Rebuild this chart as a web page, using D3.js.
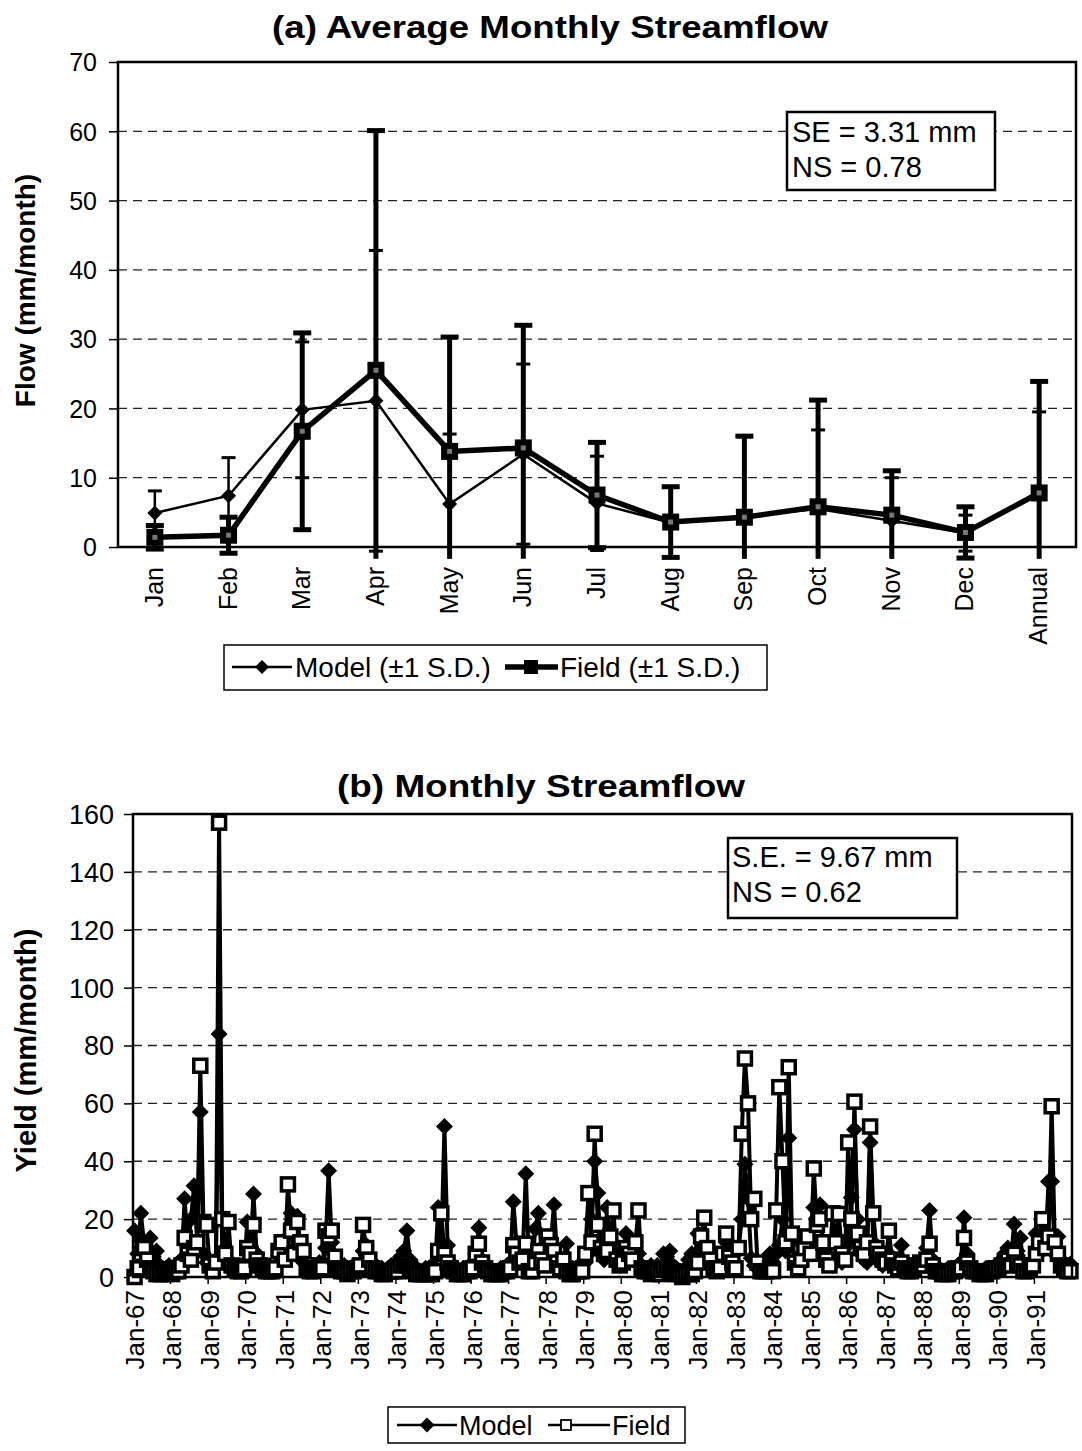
<!DOCTYPE html>
<html>
<head>
<meta charset="utf-8">
<script src="https://cdn.jsdelivr.net/npm/d3@7"></script>
<style>
  body { margin: 0; background: #fff; }
  svg { display: block; }
  text { font-family: "Liberation Sans", Arial, Helvetica, sans-serif; fill: #000; }
</style>
</head>
<body>
<svg id="chart" width="1082" height="1451"></svg>
<script>
// ---- (a) Average monthly streamflow, mm/month ----
const monthNames = ["Jan", "Feb", "Mar", "Apr", "May", "Jun", "Jul", "Aug", "Sep", "Oct", "Nov", "Dec", "Annual"];
const modelMean = [4.9, 7.4, 19.8, 21.1, 6.2, 13.4, 6.3, 3.5, 4.5, 5.5, 3.8, 2.0, 7.8];
const modelSD   = [3.2, 5.5, 9.8, 21.7, 10.1, 13.0, 6.8, 5.2, 11.4, 11.4, 6.2, 2.6, 11.7];
const fieldMean = [1.4, 1.7, 16.7, 25.5, 13.8, 14.3, 7.5, 3.6, 4.3, 5.8, 4.6, 2.1, 7.8];
const fieldSD   = [1.7, 2.6, 14.2, 34.6, 16.5, 17.7, 7.6, 5.1, 11.7, 15.4, 6.4, 3.7, 16.1];
const flowTicks = [0, 10, 20, 30, 40, 50, 60, 70];

// ---- (b) Monthly streamflow Jan-1967 .. Dec-1991, mm/month ----
const yearLabels = ["Jan-67", "Jan-68", "Jan-69", "Jan-70", "Jan-71", "Jan-72", "Jan-73", "Jan-74", "Jan-75",
  "Jan-76", "Jan-77", "Jan-78", "Jan-79", "Jan-80", "Jan-81", "Jan-82", "Jan-83", "Jan-84", "Jan-85",
  "Jan-86", "Jan-87", "Jan-88", "Jan-89", "Jan-90", "Jan-91"];
const modelYield = [
  16, 8, 22, 12, 6, 13.5, 7, 9, 4, 3, 3, 4,           // 1967
  3, 4, 5, 6, 27, 10, 20, 31.5, 12, 57, 8, 5,         // 1968
  4, 5, 6, 84, 9, 7, 5, 4, 3, 3, 4, 3,                // 1969
  19, 9, 28.7, 8, 5, 4, 3, 4, 3, 4, 5, 6,             // 1970
  8, 14, 22, 10, 21, 7, 5, 4, 3, 4, 4, 5,             // 1971
  4, 10, 36.7, 12, 6, 4, 3, 4, 3, 3, 4, 4,            // 1972
  3, 9, 11, 6, 5, 4, 3, 3, 2, 3, 4, 3,                // 1973
  4, 7, 9, 16, 6, 4, 3, 2, 2, 3, 3, 4,                // 1974
  3, 24, 10, 52, 11, 5, 3, 3, 2, 3, 3, 4,             // 1975
  4, 8, 17, 6, 4, 3, 2, 2, 2, 3, 3, 4,                // 1976
  5, 26, 12, 10, 8, 35.7, 4, 3, 16.6, 22, 10, 8,      // 1977
  10, 12, 25, 7, 5, 6, 11.5, 3, 3, 3, 4, 3,           // 1978
  5, 8, 20, 40, 29, 8, 6, 24, 12, 8, 5, 4,            // 1979
  8, 15, 10, 6, 12, 8, 4, 3, 3, 4, 3, 4,              // 1980
  3, 8, 7, 9, 4, 3, 2, 2, 3, 6, 8, 7,                 // 1981
  15, 12, 10, 8, 5, 4, 3, 3, 6, 12, 10, 8,            // 1982
  4, 10, 20, 39, 27, 6.5, 4, 3, 3, 3, 4, 8,           // 1983
  5, 8, 11, 20, 9, 48, 12, 5, 4, 4, 8, 12,            // 1984
  10, 24, 20, 25, 8, 6, 5, 4, 6, 8, 5, 10,            // 1985
  12, 27.5, 51, 20, 8, 6, 5, 46.5, 12, 8, 5, 4,       // 1986
  6, 8, 5, 4, 4, 11, 3, 3, 2, 3, 4, 5,                // 1987
  6, 10, 23, 6, 4, 3, 2, 2, 3, 3, 3, 4,               // 1988
  5, 20.5, 8, 4, 3, 2, 2, 2, 3, 3, 3, 4,              // 1989
  4, 6, 8, 10, 6, 18.3, 9, 13.5, 4, 3, 3, 4,          // 1990
  15, 8, 12, 10, 33, 33, 8, 14, 6, 4, 3, 4.5          // 1991
];
const fieldYield = [
  0, 3, 8, 10, 6, 3, 2, 1, 1, 1, 2, 2,                // 1967
  1, 2, 2, 4, 13.5, 8, 6, 10, 12, 73, 19, 18,         // 1968
  4, 2, 5, 157, 20, 8, 19, 4, 3, 2, 2, 3,             // 1969
  10, 8, 18, 6, 4, 3, 2, 2, 2, 3, 9, 12,              // 1970
  6, 32, 16, 8, 19, 12, 9, 3, 2, 2, 3, 4,             // 1971
  3, 16, 14, 16, 7, 3, 2, 2, 1, 2, 2, 3,              // 1972
  4, 18, 10, 6, 3, 2, 2, 1, 1, 2, 2, 2,               // 1973
  2, 4, 5, 4, 3, 2, 1, 1, 1, 1, 1, 1,                 // 1974
  2, 9, 22, 8, 5, 3, 2, 1, 1, 1, 2, 2,                // 1975
  3, 8, 11.5, 5, 3, 2, 1, 1, 1, 1, 2, 2,              // 1976
  3, 11, 8, 5, 6, 11.5, 2, 2, 5, 9, 6, 4,             // 1977
  14, 11, 9, 5, 3, 6, 2, 1, 1, 2, 2, 2,               // 1978
  8, 29, 12, 49.5, 18, 10, 8, 9, 14, 23, 6, 4,        // 1979
  5, 10, 8, 6, 12, 23, 3, 2, 2, 1, 2, 2,              // 1980
  1, 3, 3, 2, 2, 1, 1, 0, 1, 1, 1, 2,                 // 1981
  5, 14, 20.5, 10, 6, 3, 2, 3, 8, 15, 7, 5,           // 1982
  3, 10, 49.5, 75.5, 60, 20, 27, 5, 2, 2, 2, 3,       // 1983
  2, 23, 65.6, 40, 12, 72.5, 15, 5, 3, 6, 10, 14,     // 1984
  8, 37.5, 18, 20, 12, 6, 4, 22, 12, 21.8, 8, 6,      // 1985
  46.5, 20, 60.6, 15, 10, 8, 12, 52, 22, 10, 8, 6,    // 1986
  5, 16, 6, 4, 3, 5, 3, 2, 2, 3, 4, 5,                // 1987
  4, 6, 11.5, 4, 2, 2, 1, 1, 1, 2, 2, 3,              // 1988
  3, 13.5, 5, 3, 2, 2, 1, 1, 1, 2, 2, 3,              // 1989
  3, 4, 5, 6, 4, 8, 5, 4, 2, 2, 3, 4,                 // 1990
  8, 12, 20, 10, 14, 59, 12, 8, 4, 3, 2, 2            // 1991
];
const yieldTicks = [0, 20, 40, 60, 80, 100, 120, 140, 160];

const svg = d3.select("#chart");
const diamond = r => `M0,${-r}L${r},0L0,${r}L${-r},0Z`;

// ===================== Panel (a) =====================
const A = { left: 118, right: 1076, top: 62, bottom: 547 };
const xA = d3.scaleBand().domain(monthNames).range([A.left, A.right]);
const yA = d3.scaleLinear().domain([0, 70]).range([A.bottom, A.top]);
const cxA = d => xA(d) + xA.bandwidth() / 2;
const gA = svg.append("g");

gA.append("text").attr("x", 272).attr("y", 38)
  .attr("font-size", 32).attr("font-weight", "bold")
  .attr("textLength", 556).attr("lengthAdjust", "spacingAndGlyphs")
  .text("(a) Average Monthly Streamflow");

// dashed gridlines
gA.append("g").selectAll("line").data(flowTicks.filter(t => t > 0 && t < 70)).join("line")
  .attr("x1", A.left).attr("x2", A.right).attr("y1", yA).attr("y2", yA)
  .attr("stroke", "#222").attr("stroke-width", 1.3).attr("stroke-dasharray", "9,6");

// y axis
const axA = gA.append("g").attr("transform", `translate(${A.left},0)`)
  .call(d3.axisLeft(yA).tickValues(flowTicks).tickSize(9).tickPadding(12).tickFormat(d3.format("d")));
axA.select(".domain").remove();
axA.selectAll("line").attr("stroke", "#000").attr("stroke-width", 1.5);
axA.selectAll("text").attr("font-size", 25).attr("dy", "0.35em");

gA.append("text").attr("transform", `translate(35,${(A.top + A.bottom) / 2 - 14}) rotate(-90)`)
  .attr("text-anchor", "middle").attr("font-size", 28).attr("font-weight", "bold").text("Flow (mm/month)");

// x labels
gA.append("g").selectAll("text").data(monthNames).join("text")
  .attr("transform", d => `translate(${cxA(d) + 8},${A.bottom + 20}) rotate(-90)`)
  .attr("text-anchor", "end").attr("font-size", 25).text(d => d);

// error bars, clipped just below the zero line
const lowClip = -1.7;
function errorBars(means, sds, width, capHalf, capW) {
  const g = gA.append("g").attr("stroke", "#000");
  monthNames.forEach((m, i) => {
    const x = cxA(m), hi = means[i] + sds[i], lo = means[i] - sds[i];
    const loDraw = Math.max(lo, lowClip);
    g.append("line").attr("x1", x).attr("x2", x).attr("y1", yA(hi)).attr("y2", yA(loDraw)).attr("stroke-width", width);
    g.append("line").attr("x1", x - capHalf).attr("x2", x + capHalf).attr("y1", yA(hi)).attr("y2", yA(hi)).attr("stroke-width", capW);
    if (lo >= lowClip)
      g.append("line").attr("x1", x - capHalf).attr("x2", x + capHalf).attr("y1", yA(lo)).attr("y2", yA(lo)).attr("stroke-width", capW);
  });
}
errorBars(modelMean, modelSD, 2.5, 7, 3);
errorBars(fieldMean, fieldSD, 5, 9, 5);

const lineA = vals => d3.line().x((d, i) => cxA(monthNames[i])).y(d => yA(d))(vals);
gA.append("path").attr("d", lineA(modelMean)).attr("fill", "none").attr("stroke", "#000").attr("stroke-width", 2.5);
gA.append("path").attr("d", lineA(fieldMean)).attr("fill", "none").attr("stroke", "#000").attr("stroke-width", 5.5);

gA.append("g").selectAll("path").data(modelMean).join("path")
  .attr("transform", (d, i) => `translate(${cxA(monthNames[i])},${yA(d)})`).attr("d", diamond(7.5)).attr("fill", "#000");
const sqA = gA.append("g").selectAll("g").data(fieldMean).join("g")
  .attr("transform", (d, i) => `translate(${cxA(monthNames[i])},${yA(d)})`);
sqA.append("rect").attr("x", -8.5).attr("y", -8.5).attr("width", 17).attr("height", 17).attr("fill", "#000");
sqA.append("rect").attr("x", -2.5).attr("y", -2.5).attr("width", 5).attr("height", 5).attr("fill", "#777");

// plot frame
gA.append("rect").attr("x", A.left).attr("y", A.top).attr("width", A.right - A.left).attr("height", A.bottom - A.top)
  .attr("fill", "none").attr("stroke", "#000").attr("stroke-width", 2.5);

// statistics box
gA.append("rect").attr("x", 787).attr("y", 112).attr("width", 208).attr("height", 78)
  .attr("fill", "#fff").attr("stroke", "#000").attr("stroke-width", 2.5);
gA.append("text").attr("x", 792).attr("y", 142).attr("font-size", 29).text("SE = 3.31 mm");
gA.append("text").attr("x", 792).attr("y", 177).attr("font-size", 29).text("NS = 0.78");

// legend (a)
const legA = gA.append("g");
legA.append("rect").attr("x", 224).attr("y", 645).attr("width", 543).attr("height", 45)
  .attr("fill", "#fff").attr("stroke", "#000").attr("stroke-width", 1.5);
legA.append("line").attr("x1", 232).attr("x2", 292).attr("y1", 667).attr("y2", 667).attr("stroke", "#000").attr("stroke-width", 2.5);
legA.append("path").attr("transform", "translate(262,667)").attr("d", diamond(7)).attr("fill", "#000");
legA.append("text").attr("x", 295).attr("y", 677).attr("font-size", 28).text("Model (\u00b11 S.D.)");
legA.append("line").attr("x1", 505).attr("x2", 558).attr("y1", 667).attr("y2", 667).attr("stroke", "#000").attr("stroke-width", 5.5);
legA.append("rect").attr("x", 524).attr("y", 660).attr("width", 14).attr("height", 14).attr("fill", "#000");
legA.append("text").attr("x", 560).attr("y", 677).attr("font-size", 28).text("Field (\u00b11 S.D.)");

// ===================== Panel (b) =====================
const B = { left: 133, right: 1072, top: 814, bottom: 1277 };
const idx = d3.range(modelYield.length);
const xB = d3.scaleBand().domain(idx).range([B.left, B.right]);
const yB = d3.scaleLinear().domain([0, 160]).range([B.bottom, B.top]);
const cxB = i => xB(i) + xB.bandwidth() / 2;
const gB = svg.append("g");

gB.append("text").attr("x", 337).attr("y", 797)
  .attr("font-size", 32).attr("font-weight", "bold")
  .attr("textLength", 408).attr("lengthAdjust", "spacingAndGlyphs")
  .text("(b) Monthly Streamflow");

gB.append("g").selectAll("line").data(yieldTicks.filter(t => t > 0 && t < 160)).join("line")
  .attr("x1", B.left).attr("x2", B.right).attr("y1", yB).attr("y2", yB)
  .attr("stroke", "#222").attr("stroke-width", 1.3).attr("stroke-dasharray", "9,6");

const axB = gB.append("g").attr("transform", `translate(${B.left},0)`)
  .call(d3.axisLeft(yB).tickValues(yieldTicks).tickSize(9).tickPadding(10).tickFormat(d3.format("d")));
axB.select(".domain").remove();
axB.selectAll("line").attr("stroke", "#000").attr("stroke-width", 1.5);
axB.selectAll("text").attr("font-size", 27).attr("dy", "0.35em");

gB.append("text").attr("transform", `translate(36,${(B.top + B.bottom) / 2 + 5}) rotate(-90)`)
  .attr("text-anchor", "middle").attr("font-size", 29).attr("font-weight", "bold").text("Yield (mm/month)");

// year ticks and labels along the category axis
const yearIdx = yearLabels.map((d, k) => k * 12);
gB.append("g").selectAll("line").data(yearIdx).join("line")
  .attr("x1", d => xB(d)).attr("x2", d => xB(d)).attr("y1", B.bottom).attr("y2", B.bottom + 7)
  .attr("stroke", "#000").attr("stroke-width", 1.5);
gB.append("g").selectAll("text").data(yearLabels).join("text")
  .attr("transform", (d, k) => `translate(${cxB(yearIdx[k]) + 9},${B.bottom + 13}) rotate(-90)`)
  .attr("text-anchor", "end").attr("font-size", 26).text(d => d);

const lineB = vals => d3.line().x((d, i) => cxB(i)).y(d => yB(d))(vals);
gB.append("path").attr("d", lineB(modelYield)).attr("fill", "none").attr("stroke", "#000").attr("stroke-width", 4);
gB.append("g").selectAll("path").data(modelYield).join("path")
  .attr("transform", (d, i) => `translate(${cxB(i)},${yB(d)})`).attr("d", diamond(8.5)).attr("fill", "#000");
gB.append("path").attr("d", lineB(fieldYield)).attr("fill", "none").attr("stroke", "#000").attr("stroke-width", 4);
gB.append("g").selectAll("rect").data(fieldYield).join("rect")
  .attr("x", (d, i) => cxB(i) - 6.5).attr("y", d => yB(d) - 6.5).attr("width", 13).attr("height", 13)
  .attr("fill", "#fff").attr("stroke", "#000").attr("stroke-width", 3.5);

gB.append("rect").attr("x", B.left).attr("y", B.top).attr("width", B.right - B.left).attr("height", B.bottom - B.top)
  .attr("fill", "none").attr("stroke", "#000").attr("stroke-width", 2.5);

gB.append("rect").attr("x", 728).attr("y", 838).attr("width", 229).attr("height", 80)
  .attr("fill", "#fff").attr("stroke", "#000").attr("stroke-width", 2.5);
gB.append("text").attr("x", 732).attr("y", 867).attr("font-size", 29).text("S.E. = 9.67 mm");
gB.append("text").attr("x", 732).attr("y", 902).attr("font-size", 29).text("NS = 0.62");

// legend (b)
const legB = gB.append("g");
legB.append("rect").attr("x", 388).attr("y", 1407).attr("width", 297).attr("height", 36)
  .attr("fill", "#fff").attr("stroke", "#000").attr("stroke-width", 1.5);
legB.append("line").attr("x1", 397).attr("x2", 457).attr("y1", 1425).attr("y2", 1425).attr("stroke", "#000").attr("stroke-width", 2.5);
legB.append("path").attr("transform", "translate(427,1425)").attr("d", diamond(7.5)).attr("fill", "#000");
legB.append("text").attr("x", 459).attr("y", 1435).attr("font-size", 27).text("Model");
legB.append("line").attr("x1", 548).attr("x2", 610).attr("y1", 1425).attr("y2", 1425).attr("stroke", "#000").attr("stroke-width", 2.5);
legB.append("rect").attr("x", 561).attr("y", 1420).attr("width", 10).attr("height", 10)
  .attr("fill", "#fff").attr("stroke", "#000").attr("stroke-width", 1.8);
legB.append("text").attr("x", 612).attr("y", 1435).attr("font-size", 27).text("Field");
</script>
</body>
</html>
